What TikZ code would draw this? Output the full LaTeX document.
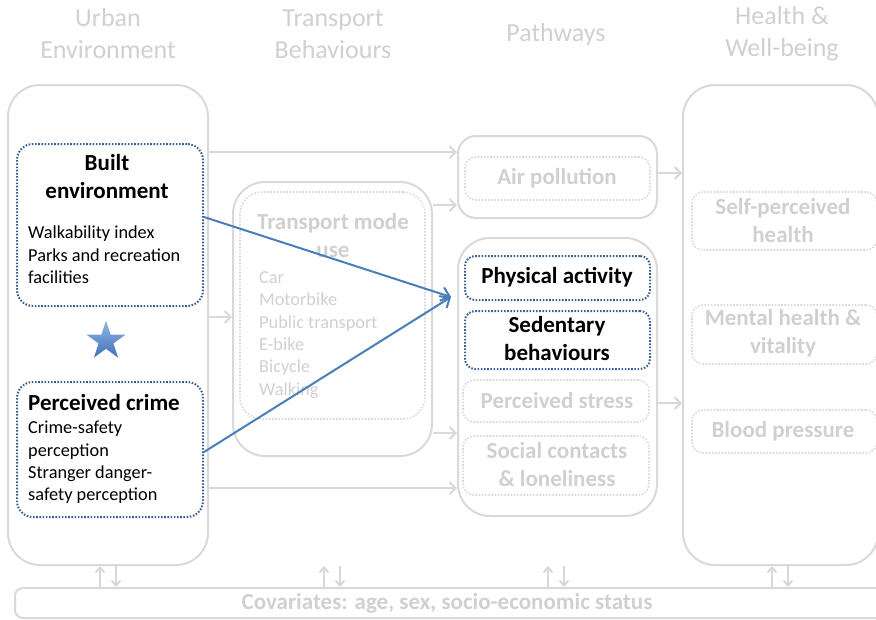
\documentclass[tikz,border=0pt]{standalone}
\usepackage{fontspec}
\setmainfont{Carlito}
\usetikzlibrary{shapes.geometric,arrows.meta}
\definecolor{lineGray}{RGB}{217,217,217}
\definecolor{textGray}{RGB}{208,208,208}
\definecolor{dotBlue}{RGB}{55,96,146}
\definecolor{arrowBlue}{RGB}{74,126,187}
\definecolor{starTop}{RGB}{150,184,232}
\definecolor{starBot}{RGB}{62,112,185}
\begin{document}
\begin{tikzpicture}[x=1pt,y=-1pt]
        \tikzset{Outer/.style={%
                draw=lineGray,%
                line width=2pt,%
                rounded corners=32pt,%
                inner sep=0pt,%
            }}
        \tikzset{Dots/.style={%
                draw=dotBlue,%
                line width=2pt,%
                dash pattern=on 1.6pt off 1.6pt,%
                rounded corners=16pt,%
                inner sep=0pt,%
            }}
        \tikzset{Faint/.style={%
                Dots,%
                draw=lineGray,%
                line width=1.6pt,%
                rounded corners=11pt,%
            }}
        \tikzset{Head/.style={text=textGray, align=center, font=\fontsize{26}{32}\selectfont}}
        \tikzset{Title/.style={align=center, font=\fontsize{23}{28}\selectfont\bfseries}}
        \tikzset{Body/.style={anchor=west, align=left, inner sep=0pt, font=\fontsize{18.3}{22.4}\selectfont}}
        \tikzset{Link/.style={draw=lineGray, line width=2pt, -{Straight Barb[length=6pt,width=12pt]}}}
        \tikzset{Cov/.style={draw=lineGray, line width=2pt, -{Straight Barb[length=5pt,width=9pt]}}}
        \tikzset{Effect/.style={draw=arrowBlue, line width=2pt, -{Straight Barb[length=8pt,width=14pt]}}}

        \useasboundingbox (0,0) rectangle (876,619);
        \clip (0,0) rectangle (876,619);

        \node[Head] (urbanHead) at (108,34) {Urban\\Environment};
        \node[Head] (transHead) at (333,34) {Transport\\Behaviours};
        \node[Head] (pathHead) at (556,35) {Pathways};
        \node[Head] (healthHead) at (782,34) {Health \&\\Well-being};

        \node[Outer, minimum width=200, minimum height=480] (urban) at (108,325) {};
        \node[Outer, minimum width=199, minimum height=274] (trans) at (332.5,319) {};
        \node[Outer, minimum width=199, minimum height=82, rounded corners=18pt] (air) at (557.5,177) {};
        \node[Outer, minimum width=199, minimum height=278] (path) at (557.5,377) {};
        \node[Outer, minimum width=195, minimum height=480] (health) at (780.5,325) {};
        \node[Outer, minimum width=875, minimum height=30, rounded corners=8pt] (cov) at (452.5,603) {};

        \node[Dots, minimum width=186, minimum height=162] (builtBox) at (110,225) {};
        \node[Dots, minimum width=186, minimum height=135] (crimeBox) at (110,449.5) {};
        \node[Faint, minimum width=185, minimum height=227, rounded corners=22pt] (modeBox) at (332.5,305.5) {};
        \node[Faint, minimum width=185, minimum height=43] (airIn) at (557.5,178.5) {};
        \node[Dots, minimum width=185, minimum height=44, rounded corners=10pt] (paBox) at (557.5,278) {};
        \node[Dots, minimum width=185, minimum height=58, rounded corners=10pt] (sedBox) at (557.5,340) {};
        \node[Faint, minimum width=186, minimum height=42] (stressBox) at (556,401) {};
        \node[Faint, minimum width=186, minimum height=59] (socialBox) at (556,465.5) {};
        \node[Faint, minimum width=185, minimum height=58] (selfBox) at (784.5,221) {};
        \node[Faint, minimum width=185, minimum height=59] (mentalBox) at (784.5,334.5) {};
        \node[Faint, minimum width=185, minimum height=43] (bpBox) at (784.5,431.5) {};

        \node[Title] (builtTxt) at (107,177) {Built\\environment};
        \node[Body] (builtList) at (28,255) {Walkability index\\Parks and recreation\\facilities};
        \node[Title, anchor=west, inner sep=0pt] (crimeTxt) at (28,403) {Perceived crime};
        \node[Body] (crimeList) at (28,462.5) {Crime-safety\\perception\\Stranger danger-\\safety perception};
        \node[star, star points=5, star point ratio=2.62, minimum size=41, inner sep=0pt, top color=starTop, bottom color=starBot] (star) at (106,341) {};
        \node[Title, text=textGray] (modeTxt) at (333,236) {Transport mode\\use};
        \node[Body, text=textGray] (modeList) at (259,335) {Car\\Motorbike\\Public transport\\E-bike\\Bicycle\\Walking};
        \node[Title, text=textGray] (airTxt) at (557,178) {Air pollution};
        \node[Title] (paTxt) at (557,277) {Physical activity};
        \node[Title] (sedTxt) at (557,339) {Sedentary\\behaviours};
        \node[Title, text=textGray] (stressTxt) at (557,401) {Perceived stress};
        \node[Title, text=textGray] (socialTxt) at (557,465) {Social contacts\\\& loneliness};
        \node[Title, text=textGray] (selfTxt) at (783,221) {Self-perceived\\health};
        \node[Title, text=textGray] (mentalTxt) at (783,333) {Mental health \&\\vitality};
        \node[Title, text=textGray] (bpTxt) at (783,431) {Blood pressure};
        \node[Title, text=textGray] (covTxt) at (447,603) {Covariates: age, sex, socio-economic status};

        \path (urban.east |- 0,152) edge[Link] (air.west |- 0,152);
        \path (trans.east |- 0,205) edge[Link] (air.west |- 0,205);
        \path (urban.east |- 0,317) edge[Link] (trans.west |- 0,317);
        \path (trans.east |- 0,433) edge[Link] (path.west |- 0,433);
        \path (urban.east |- 0,488) edge[Link] (path.west |- 0,488);
        \path (air.east |- 0,173) edge[Link] (health.west |- 0,173);
        \path (path.east |- 0,403) edge[Link] (health.west |- 0,403);

        \coordinate (paIn) at (451,297);
        \path (builtBox.east |- 0,217) edge[Effect] (paIn);
        \path (crimeBox.east |- 0,452) edge[Effect] (paIn);

        \foreach \x [evaluate=\x as \y using \x+16] in {100,324,548,772}{
            \draw[Cov] (cov.north -| \x,0) -- ++(0,-21);
            \draw[Cov] (cov.north -| \y,0) ++(0,-21) -- (cov.north -| \y,0);
        }
\end{tikzpicture}
\end{document}
